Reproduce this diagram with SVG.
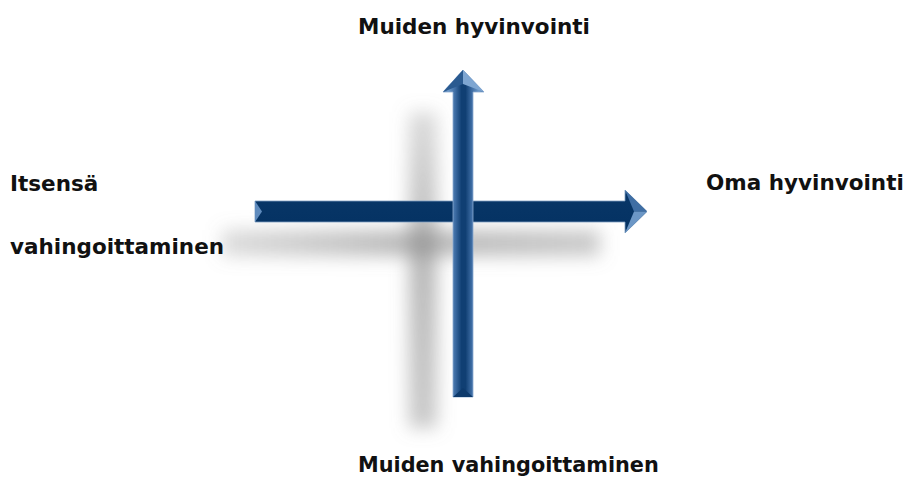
<svg xmlns="http://www.w3.org/2000/svg" width="910" height="477" viewBox="0 0 910 477">
<style>
.lbl{font-family:"DejaVu Sans","Liberation Sans",sans-serif;font-weight:bold;font-size:21.5px;fill:#111}
.sm{font-size:20.8px}
</style>
<defs>
<filter id="blur" x="-50%" y="-50%" width="200%" height="200%"><feGaussianBlur stdDeviation="9"/></filter>
<linearGradient id="vg" x1="0" y1="0" x2="1" y2="0">
<stop offset="0" stop-color="#2f5d92"/>
<stop offset="0.12" stop-color="#6f9bca"/>
<stop offset="0.3" stop-color="#3d6ca3"/>
<stop offset="0.45" stop-color="#103f73"/>
<stop offset="0.55" stop-color="#103f73"/>
<stop offset="0.7" stop-color="#3d6ca3"/>
<stop offset="0.88" stop-color="#6f9bca"/>
<stop offset="1" stop-color="#2f5d92"/>
</linearGradient>
<linearGradient id="hg" x1="0" y1="0" x2="0" y2="1">
<stop offset="0" stop-color="#5c82ad"/>
<stop offset="0.1" stop-color="#083667"/>
<stop offset="0.9" stop-color="#043263"/>
<stop offset="1" stop-color="#4c76a4"/>
</linearGradient>
<linearGradient id="hs" x1="0" y1="0" x2="1" y2="0">
<stop offset="0" stop-color="#888" stop-opacity="0.3"/>
<stop offset="0.5" stop-color="#888" stop-opacity="0.6"/>
<stop offset="1" stop-color="#888" stop-opacity="0.45"/>
</linearGradient>
<linearGradient id="vs" x1="0" y1="0" x2="0" y2="1">
<stop offset="0" stop-color="#888" stop-opacity="0.3"/>
<stop offset="0.45" stop-color="#888" stop-opacity="0.6"/>
<stop offset="1" stop-color="#888" stop-opacity="0.45"/>
</linearGradient>
</defs>
<g id="shadows" filter="url(#blur)">
<rect x="222" y="230" width="378" height="26" fill="url(#hs)"/>
<rect x="409" y="112" width="28" height="316" fill="url(#vs)"/>
</g>
<g id="connectors">
<g id="h-arrow">
<path d="M255,201 H625 V190 L647,211.5 L625,233 V222 H255 Z" fill="url(#hg)" stroke="#7f9fc2" stroke-width="0.8"/>
<path d="M255,201 L262,211.5 L255,222 Z" fill="#5f8bbd"/>
<path d="M625,190 L647,211.5 L634,211.5 Z" fill="#3f6ea4"/>
<path d="M634,211.5 L647,211.5 L625,233 Z" fill="#6c97c6"/>
</g>
<g id="v-arrow">
<path d="M453,397 V92 H443 L463,70 L484,92 H473 V397 Z" fill="url(#vg)" stroke="#8aaad0" stroke-width="0.8"/>
<path d="M443,92 L463,70 L463,84 Z" fill="#2a5a90"/>
<path d="M463,70 L484,92 L463,84 Z" fill="#7ea6d2"/>
<path d="M453,397 L463,388 L473,397 Z" fill="#0d3a6c"/>
</g>
</g>
<g id="n-top"><text class="lbl" x="358" y="34">Muiden hyvinvointi</text></g>
<g id="n-right"><text class="lbl" x="706" y="190">Oma hyvinvointi</text></g>
<g id="n-left"><text class="lbl" x="10" y="191">Itsensä</text><text class="lbl" x="10" y="254">vahingoittaminen</text></g>
<g id="n-bottom"><text class="lbl sm" x="358" y="472">Muiden vahingoittaminen</text></g>
</svg>
